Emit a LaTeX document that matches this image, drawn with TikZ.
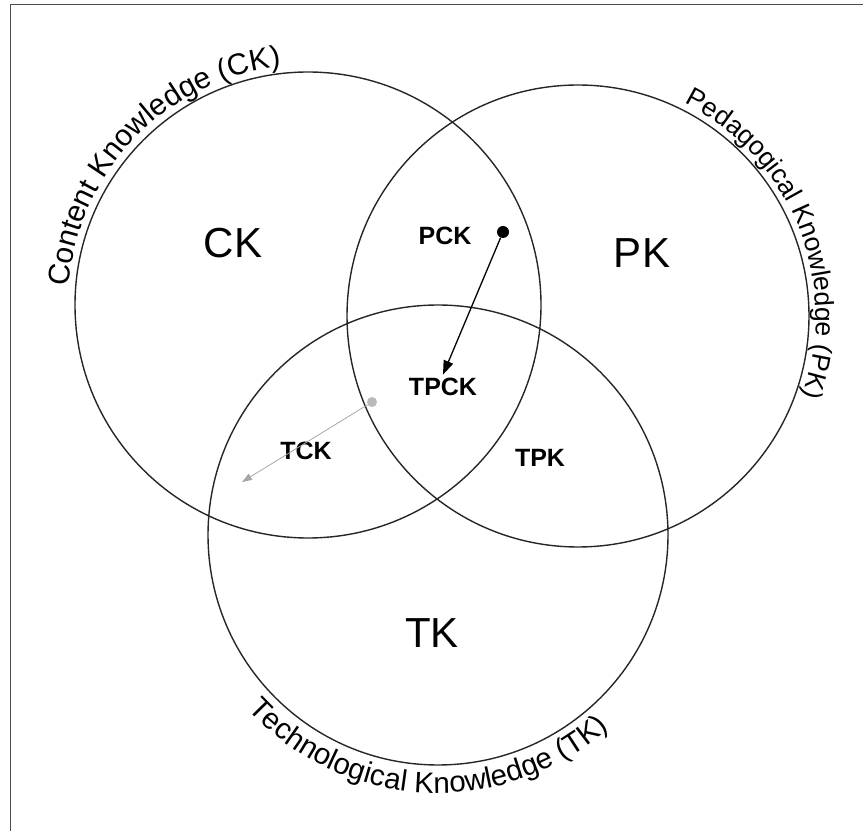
\documentclass[tikz,border=0pt]{standalone}
\usepackage{fontspec}
\newfontfamily\arialfont{Liberation Sans}
\usetikzlibrary{decorations.text,arrows.meta}

\begin{document}
\begin{tikzpicture}[x=1pt,y=1pt,
setnode/.style={circle, draw=black!85, line width=1.4pt, minimum size=466pt, inner sep=0pt},
bigtag/.style={font=\arialfont\fontsize{42}{46}\selectfont},
smalltag/.style={font=\arialfont\bfseries\fontsize{25}{28}\selectfont},
arctext/.style 2 args={decorate, decoration={text along path, text align=center, text={|\arialfont\fontsize{#1}{#1}\selectfont|#2}}},
]
\useasboundingbox (0,0) rectangle (863,831);
%Frame
\draw[black!70, line width=1.5pt] (10.5,0) -- (10.5,826.5) -- (863,826.5);

%Circles
\node[setnode]                     (ck) at (308,526) {};
\node[setnode, minimum size=462pt] (pk) at (578,515) {};
\node[setnode, minimum size=460pt] (tk) at (438,296) {};

%Nodes
\node[bigtag]   (cklab)  at (233,588) {CK};
\node[bigtag]   (pklab)  at (642,578) {PK};
\node[bigtag]   (tklab)  at (432,198) {TK};
\node[smalltag] (pck)    at (445,595) {PCK};
\node[smalltag] (tpck)   at (443,444) {TPCK};
\node[smalltag] (tck)    at (306,380) {TCK};
\node[smalltag] (tpk)    at (540,373) {TPK};
\node[circle, fill=black, inner sep=0pt, minimum size=12pt]  (pckdot) at (503,599) {};
\node[circle, fill=gray!55, inner sep=0pt, minimum size=10pt] (tckdot) at (372,429) {};
\coordinate (tckend) at (242,349);

%Lines
\draw[line width=1.3pt, -{Triangle[length=14pt,width=10pt]}] (pckdot) -- (tpck.north);
\draw[gray!70, line width=0.8pt, -{Triangle[length=10pt,width=7pt]}] (tckdot) -- (tckend);

%Labels on the circles
\path[arctext={30}{Content Knowledge (CK)}] (ck) ++(201:240) arc[start angle=201, end angle=71, radius=240];
\path[arctext={26.5}{Pedagogical Knowledge (PK)}] (pk) ++(99:238) arc[start angle=99, end angle=-55, radius=238];
\path[arctext={29.5}{Technological Knowledge (TK)}] (tk) ++(197:258) arc[start angle=197, end angle=337, radius=258];
\end{tikzpicture}
\end{document}
